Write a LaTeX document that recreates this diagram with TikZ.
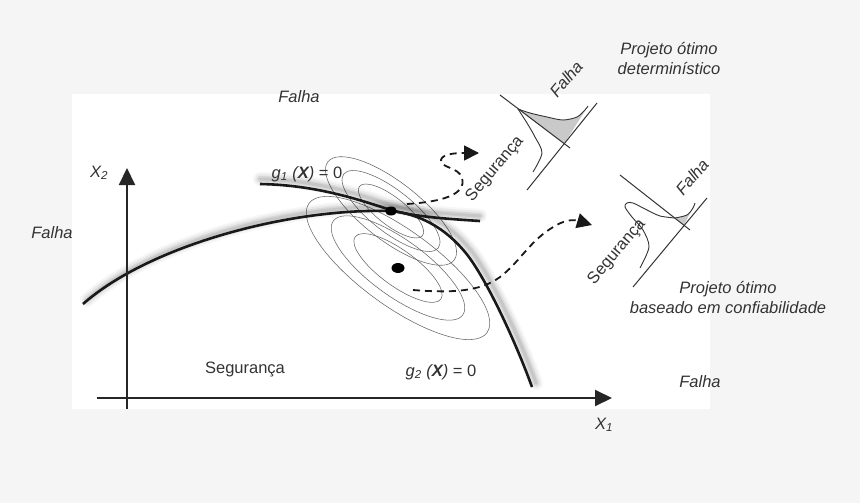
\documentclass[tikz,border=0pt]{standalone}
\usepackage{fontspec}
\setmainfont{Liberation Sans}
\usetikzlibrary{arrows.meta,shapes.geometric}
\definecolor{bggray}{HTML}{F5F5F5}
\definecolor{txt}{HTML}{333333}
\definecolor{ellgray}{HTML}{666666}
\definecolor{shadefill}{HTML}{C9C9C9}
\begin{document}
\begin{tikzpicture}[x=1pt,y=-1pt,
  lbl/.style={text=txt, font=\fontsize{16.5}{20}\selectfont, inner sep=0pt},
  ilbl/.style={text=txt, font=\fontsize{16.5}{20}\selectfont\itshape, inner sep=0pt},
  axisline/.style={line width=2pt, draw=black!85, -{Triangle[length=17pt,width=16pt]}},
  curve/.style={line width=2.6pt, draw=black!90},
  shadowline/.style={draw=black, line cap=round},
  ell/.style={line width=0.55pt, draw=ellgray},
  dasharrow/.style={line width=1.8pt, draw=black!90, dash pattern=on 7pt off 5pt, -{Triangle[length=15pt,width=15pt]}},
  sketchline/.style={line width=1pt, draw=black!80},
  pdfline/.style={line width=0.9pt, draw=black!80},
  dot/.style={ellipse, fill=black, inner sep=0pt},
]
\useasboundingbox (0,0) rectangle (860,503);
\fill[bggray] (0,0) rectangle (860,503);
\fill[white] (72,94) rectangle (710,409);

% ellipses (probability contours)
\coordinate (m1) at (391,211);
\coordinate (m2) at (398,268);
\foreach \a/\b in {80/29, 60/21, 40/14}
  \draw[ell, rotate around={-38:(m1)}] (m1) ellipse [x radius=\a, y radius=\b];
\foreach \a/\b in {110/38, 80/28, 53/18}
  \draw[ell, rotate around={-36:(m2)}] (m2) ellipse [x radius=\a, y radius=\b];

% limit state curves with shadows
\def\gtwopath{(83,304) .. controls (150,245) and (290,208) .. (391,211) .. controls (420,214) and (445,228) .. (465,252) .. controls (485,276) and (515,340) .. (532,387)}
\def\gonepath{(260,184) .. controls (320,185) and (365,202) .. (391,210) .. controls (415,217) and (450,219) .. (480,221)}
\foreach \w/\o in {14/0.035, 10/0.05, 6/0.07, 3/0.08}{
  \draw[shadowline, line width=\w pt, opacity=\o, shift={(4,-4)}] \gtwopath;
  \draw[shadowline, line width=\w pt, opacity=\o, shift={(0,-5)}] \gonepath;
}
\draw[curve] \gtwopath;
\draw[curve] \gonepath;

% points
\node[dot, minimum width=12pt, minimum height=9pt] (dp) at (m1) {};
\node[dot, minimum width=13pt, minimum height=10pt] (mp) at (m2) {};

% axes
\coordinate (yb) at (127,409);
\coordinate (yt) at (127,168);
\coordinate (xl) at (97,398);
\coordinate (xr) at (612,398);
\draw[axisline] (yb) -- (yt);
\draw[axisline] (xl) -- (xr);

% dashed arrows
\coordinate (d1s) at (407,204);
\coordinate (d1e) at (479,153);
\draw[dasharrow] (d1s) .. controls (440,202) and (467,195) .. (462,178)
   .. controls (459,167) and (440,168) .. (441,160)
   .. controls (442,154) and (455,153) .. (d1e);
\coordinate (d2s) at (413,290);
\coordinate (d2e) at (592,225);
\draw[dasharrow] (d2s) .. controls (450,293) and (480,292) .. (500,277)
   .. controls (520,262) and (530,240) .. (555,226)
   .. controls (563,221) and (572,219) .. (d2e);

% upper distribution sketch (deterministic)
\coordinate (ua1) at (500,95);
\coordinate (ua2) at (570,148);
\coordinate (ub1) at (527,190);
\coordinate (ub2) at (597,103);
\coordinate (uint) at (564,144);
\fill[shadefill] plot[smooth] coordinates {(518,109) (530,113) (547,117) (563,120) (577,117) (585,110) (588,106)} -- (uint) -- cycle;
\draw[sketchline] (ua1) -- (ua2);
\draw[sketchline] (ub1) -- (ub2);
\draw[pdfline] plot[smooth] coordinates {(533,172) (542,153) (535,137) (527,123) (518,109)};
\draw[pdfline] plot[smooth] coordinates {(518,109) (530,113) (547,117) (563,120) (577,117) (585,110) (588,106)};

% lower distribution sketch (reliability based)
\coordinate (la1) at (620,175);
\coordinate (la2) at (690,230);
\coordinate (lb1) at (633,287);
\coordinate (lb2) at (707,198);
\coordinate (lint) at (684,225);
\fill[shadefill] plot[smooth] coordinates {(675,218) (687,215) (693,208) (695,203)} -- (lint) -- cycle;
\draw[sketchline] (la1) -- (la2);
\draw[sketchline] (lb1) -- (lb2);
\draw[pdfline] plot[smooth] coordinates {(640,268) (649,247) (643,230) (632,217) (625,207) (627,203) (633,203) (647,210) (660,216) (675,218)};
\draw[pdfline] plot[smooth] coordinates {(675,218) (687,215) (693,208) (695,203)};

% labels
\node[ilbl] (falhatop) at (299,97) {Falha};
\node[ilbl] (falhaleft) at (52,233) {Falha};
\node[ilbl] (falhabr) at (700,382) {Falha};
\node[lbl] (segbot) at (245,369) {Segurança};
\node[lbl] (g1lbl) at (307,174) {\itshape g\textsubscript{1} (\textbf{X}) \upshape= 0};
\node[lbl] (g2lbl) at (441,372) {\itshape g\textsubscript{2} (\textbf{X}) \upshape= 0};
\node[ilbl] (x2lbl) at (99,173) {X\textsubscript{2}};
\node[ilbl] (x1lbl) at (604,425) {X\textsubscript{1}};
\node[ilbl, align=center] (pdet) at (669,59) {Projeto ótimo\\determinístico};
\node[ilbl, align=center] (prel) at (728,298) {Projeto ótimo\\baseado em confiabilidade};
\node[ilbl, rotate=50] (falha1) at (566,79) {Falha};
\node[lbl, rotate=50] (seg1) at (495,169) {Segurança};
\node[ilbl, rotate=50] (falha2) at (692,177) {Falha};
\node[lbl, rotate=50] (seg2) at (617,252) {Segurança};
\end{tikzpicture}
\end{document}
